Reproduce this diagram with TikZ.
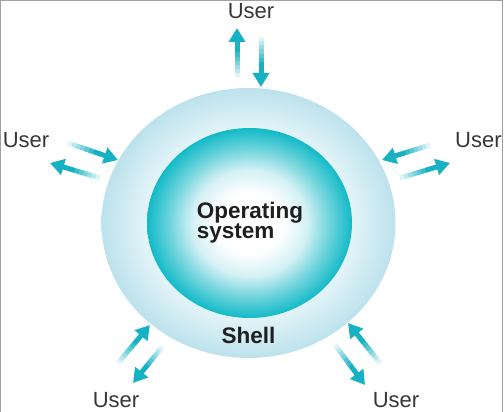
\documentclass[tikz,border=0pt]{standalone}
\usepackage{fontspec}
\setmainfont{Liberation Sans}
\usepackage{tikz}
\usetikzlibrary{arrows.meta, calc, shapes.geometric}

\definecolor{flowcyan}{RGB}{22,178,196}
\definecolor{shellout}{RGB}{188,226,236}
\definecolor{shellin}{RGB}{230,245,249}
\definecolor{coreedge}{RGB}{18,186,200}
\definecolor{coremid}{RGB}{60,198,209}
\definecolor{corelight}{RGB}{120,214,222}
\definecolor{corepale}{RGB}{212,241,245}
\definecolor{labelgray}{RGB}{55,55,55}
\definecolor{framegray}{RGB}{160,160,160}

\pgfdeclareradialshading{shellshade}{\pgfpoint{0bp}{0bp}}{color(0bp)=(white); color(17bp)=(shellin); color(25bp)=(shellout); color(50bp)=(shellout)}
\pgfdeclareradialshading{coreshade}{\pgfpoint{0bp}{0bp}}{color(0bp)=(white); color(8bp)=(white); color(14bp)=(corepale); color(19bp)=(corelight); color(22.5bp)=(coremid); color(25bp)=(coreedge); color(50bp)=(coreedge)}

\tikzset{
  userlabel/.style={font=\fontsize{22}{24}\selectfont, text=labelgray, anchor=base, inner sep=0pt},
  boldlabel/.style={font=\bfseries\fontsize{22.5}{20.5}\selectfont, text=black!88, inner sep=0pt},
  flowline/.style={draw=flowcyan, line width=5pt},
}

% arrow with a fading tail, from #1 to #2
\newcommand{\flowarrow}[2]{%
  \foreach \k in {1,...,6}{%
    \pgfmathsetmacro{\fadeop}{\k/7}
    \draw[flowline, draw opacity=\fadeop] ($(#1)!{(\k-1)/12}!(#2)$) -- ($(#1)!{\k/12}!(#2)$);
  }
  \draw[flowline, -{Triangle[length=14pt,width=16pt]}] ($(#1)!0.5!(#2)$) -- (#2);
}

\begin{document}
\begin{tikzpicture}[x=1pt, y=-1pt]
\useasboundingbox (0,0) rectangle (504,412);

% frame
\draw[framegray, line width=1.2pt] (0.6,412) -- (0.6,0.6) -- (502.6,0.6) -- (502.6,412);

% shell and kernel
\node[ellipse, minimum width=294pt, minimum height=270pt, inner sep=0pt, shade, shading=shellshade] (shell) at (248.5,223) {};
\node[ellipse, minimum width=205pt, minimum height=190pt, inner sep=0pt, shade, shading=coreshade] (core) at (249.5,223) {};

\node[boldlabel, align=left] (oslabel) at (250,222.5) {Operating\\system};
\node[boldlabel, anchor=base] (shelllabel) at (248.5,343) {Shell};

% users
\node[userlabel] (usertop) at (251,18.5) {User};
\node[userlabel] (userleft) at (26,147) {User};
\node[userlabel, anchor=base west] (userright) at (455,147) {User};
\node[userlabel] (userbl) at (116,407) {User};
\node[userlabel] (userbr) at (396,407) {User};

% arrow ends
\coordinate (top-out-a) at (237,77);
\coordinate (top-out-b) at (237,28);
\coordinate (top-in-a) at (261,37);
\coordinate (top-in-b) at (261,87);
\coordinate (left-in-a) at (68,143);
\coordinate (left-in-b) at (118,160);
\coordinate (left-out-a) at (100,178);
\coordinate (left-out-b) at (50,163);
\coordinate (right-in-a) at (430,145);
\coordinate (right-in-b) at (382,160);
\coordinate (right-out-a) at (400,178);
\coordinate (right-out-b) at (450,163);
\coordinate (bl-in-a) at (118,363);
\coordinate (bl-in-b) at (150,325);
\coordinate (bl-out-a) at (162,347);
\coordinate (bl-out-b) at (133,383);
\coordinate (br-in-a) at (380,363);
\coordinate (br-in-b) at (348,323);
\coordinate (br-out-a) at (335,345);
\coordinate (br-out-b) at (365,385);

\flowarrow{top-out-a}{top-out-b}
\flowarrow{top-in-a}{top-in-b}
\flowarrow{left-in-a}{left-in-b}
\flowarrow{left-out-a}{left-out-b}
\flowarrow{right-in-a}{right-in-b}
\flowarrow{right-out-a}{right-out-b}
\flowarrow{bl-in-a}{bl-in-b}
\flowarrow{bl-out-a}{bl-out-b}
\flowarrow{br-in-a}{br-in-b}
\flowarrow{br-out-a}{br-out-b}
\end{tikzpicture}
\end{document}
